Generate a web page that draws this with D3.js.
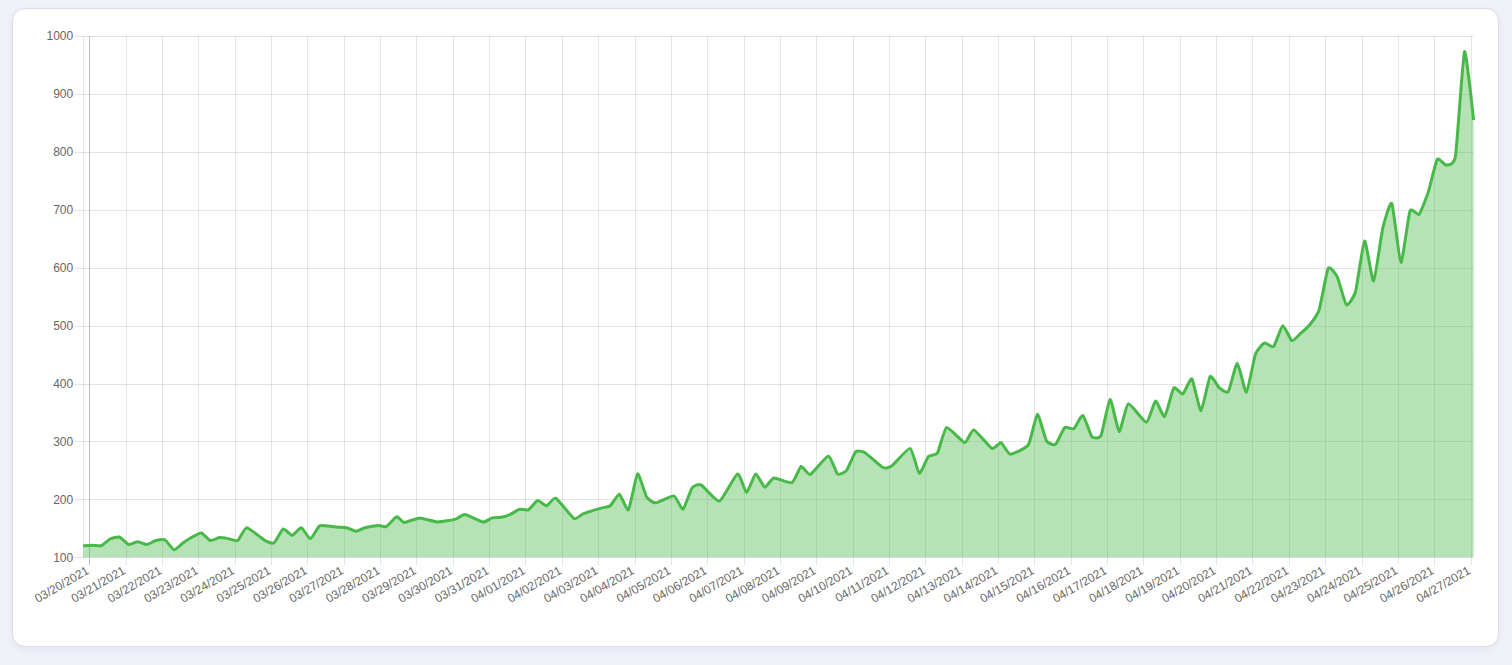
<!DOCTYPE html>
<html lang="en">
<head>
  <meta charset="utf-8">
  <title>Daily chart</title>
  <script src="https://d3js.org/d3.v7.min.js"></script>
  <style>
    html, body {
      margin: 0;
      padding: 0;
      background: #f1f1fa;
      width: 1512px;
      height: 665px;
      overflow: hidden;
    }
    .card {
      position: absolute;
      left: 12px;
      top: 8px;
      width: 1485px;
      height: 637px;
      background: #fff;
      border: 1px solid #dcdce8;
      border-radius: 13px;
      box-shadow: 0 2px 6px rgba(60, 60, 110, 0.08);
    }
    #chart {
      position: absolute;
      left: 0;
      top: 0;
    }
    .tick-label {
      font-family: Arial, "Liberation Sans", sans-serif;
      font-size: 12px;
      fill: #666;
    }
  </style>
</head>
<body>
  <div class="card"></div>
  <div id="chart"></div>
  <script>
    // hours after 03/20/2021 00:00, one sample roughly every 6 hours
    var hours = [
      -4, 2, 8, 14, 20, 26, 32, 38, 44, 50, 56, 62, 68, 74, 80, 86, 92, 98, 104, 116,
      122, 128, 134, 140, 146, 152, 158, 164, 170, 176, 182, 191, 196, 203, 208, 218, 230, 242, 248, 260,
      266, 272, 278, 284, 290, 296, 302, 308, 320, 326, 338, 344, 350, 356, 362, 368, 374, 386, 392, 398,
      404, 416, 428, 434, 440, 446, 452, 464, 470, 476, 488, 494, 500, 506, 512, 524, 530, 542, 548, 554,
      560, 566, 578, 584, 596, 602, 608, 620, 626, 632, 638, 644, 650, 656, 662, 668, 674, 680, 686, 698,
      704, 710, 716, 722, 728, 734, 740, 746, 752, 758, 764, 770, 776, 782, 788, 794, 800, 806, 812, 818,
      824, 830, 836, 842, 848, 854, 860, 866, 872, 878, 884, 890, 896, 902, 908, 914
    ];
    var values = [
      120, 121, 120, 132, 135, 122, 127, 122, 129, 130, 113, 125, 135, 142, 129, 134, 132, 129, 151, 129,
      125, 149, 138, 151, 132, 154, 154, 152, 151, 145, 151, 155, 153, 170, 160, 168, 161, 166, 174, 161,
      168, 169, 174, 183, 182, 198, 189, 202, 167, 175, 185, 189, 209, 182, 244, 204, 194, 206, 183, 220,
      225, 197, 244, 212, 244, 221, 237, 229, 257, 243, 275, 244, 250, 282, 281, 255, 258, 288, 245, 274,
      280, 324, 298, 320, 288, 298, 278, 294, 347, 301, 295, 324, 322, 345, 308, 310, 373, 317, 365, 333,
      370, 343, 392, 382, 408, 353, 412, 393, 386, 435, 385, 451, 470, 464, 500, 474, 487, 502, 527, 599,
      584, 536, 558, 646, 577, 668, 711, 609, 698, 692, 730, 787, 777, 792, 973, 855
    ];
    var yTicks = [100, 200, 300, 400, 500, 600, 700, 800, 900, 1000];
    var firstDay = new Date(2021, 2, 20);
    var lastDay = new Date(2021, 3, 27);

    var w = 1512;
    var h = 665;
    var plotLeft = 83.2, plotRight = 1473.6, plotTop = 36, plotBottom = 557.3;

    var data = hours.map(function(hr, i) {
      return {t: d3.timeHour.offset(firstDay, hr), v: values[i]};
    });

    var x = d3.scaleTime()
      .domain([data[0].t, data[data.length - 1].t])
      .range([plotLeft, plotRight]);
    var y = d3.scaleLinear()
      .domain([100, 1000])
      .range([plotBottom, plotTop]);

    var days = d3.timeDay.range(firstDay, d3.timeDay.offset(lastDay, 1));
    var fmt = d3.timeFormat('%m/%d/%Y');

    var svg = d3.select('#chart').append('svg')
      .attr('width', w)
      .attr('height', h);

    // horizontal grid + y tick marks
    svg.append('g').selectAll('line')
      .data(yTicks)
      .enter().append('line')
      .attr('x1', plotLeft - 9)
      .attr('x2', plotRight)
      .attr('y1', function(d) { return Math.round(y(d)) + 0.5; })
      .attr('y2', function(d) { return Math.round(y(d)) + 0.5; })
      .attr('stroke', 'rgba(0,0,0,0.1)')
      .attr('stroke-width', 1);

    // vertical day grid + x tick marks
    svg.append('g').selectAll('line')
      .data(days)
      .enter().append('line')
      .attr('x1', function(d) { return Math.round(x(d)) + 0.5; })
      .attr('x2', function(d) { return Math.round(x(d)) + 0.5; })
      .attr('y1', plotTop)
      .attr('y2', plotBottom + 8)
      .attr('stroke', function(d, i) { return i === 0 ? 'rgba(0,0,0,0.25)' : 'rgba(0,0,0,0.1)'; })
      .attr('stroke-width', 1);

    // y axis border
    svg.append('line')
      .attr('x1', Math.round(plotLeft) + 0.5)
      .attr('x2', Math.round(plotLeft) + 0.5)
      .attr('y1', plotTop)
      .attr('y2', plotBottom)
      .attr('stroke', 'rgba(0,0,0,0.1)');

    var curve = d3.curveCardinal.tension(0.5);

    var area = d3.area()
      .x(function(d) { return x(d.t); })
      .y0(y(100))
      .y1(function(d) { return y(d.v); })
      .curve(curve);

    var line = d3.line()
      .x(function(d) { return x(d.t); })
      .y(function(d) { return y(d.v); })
      .curve(curve);

    svg.append('path')
      .datum(data)
      .attr('d', area)
      .attr('fill', 'rgba(72,184,70,0.4)');

    svg.append('path')
      .datum(data)
      .attr('d', line)
      .attr('fill', 'none')
      .attr('stroke', '#48b948')
      .attr('stroke-width', 3)
      .attr('stroke-linejoin', 'round');

    // y labels
    svg.append('g').selectAll('text')
      .data(yTicks)
      .enter().append('text')
      .attr('class', 'tick-label')
      .attr('x', plotLeft - 10)
      .attr('y', function(d) { return y(d); })
      .attr('dy', '0.35em')
      .attr('text-anchor', 'end')
      .text(function(d) { return d; });

    // x labels, rotated
    svg.append('g').selectAll('text')
      .data(days)
      .enter().append('text')
      .attr('class', 'tick-label')
      .attr('text-anchor', 'end')
      .attr('dy', '0.35em')
      .attr('transform', function(d) {
        return 'translate(' + (x(d) - 1.5) + ',' + (plotBottom + 12) + ') rotate(-30)';
      })
      .text(function(d) { return fmt(d); });
  </script>
</body>
</html>
